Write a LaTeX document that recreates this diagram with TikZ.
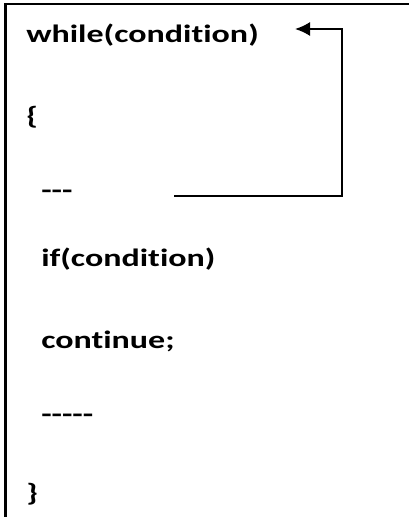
\documentclass[tikz,border=0pt]{standalone}
\usepackage{fontspec}
\newfontfamily\codefont{Carlito}[Ligatures=NoCommon]
\usetikzlibrary{arrows.meta,positioning}
\tikzset{
    codeline/.style = {anchor=base west, inner sep=0pt, xscale=1.36, transform shape,
                       font=\codefont\bfseries\fontsize{25}{29}\selectfont},
    loopline/.style = {line width=1.8pt}
}

\begin{document}
\begin{tikzpicture}[x=1pt, y=-1pt]
    \useasboundingbox (0,0) rectangle (409,517);
    \draw[line width=2.6pt] (5.5,517) -- (5.5,4) -- (409,4);

    \node[codeline] (while) at (26,42) {while(condition)};
    \node[codeline] (open) at (26,124) {\{};
    \node[codeline] (dash3) at (41,198) {---};
    \node[codeline] (if) at (41,266) {if(condition)};
    \node[codeline] (cont) at (41,348) {continue;};
    \node[codeline] (dash5) at (41,422) {-----};
    \node[codeline] (close) at (26,501) {\}};

    \coordinate (loopstart) at (174,196);
    \coordinate (looptop) at (342,29);
    \coordinate (loopend) at (295,29);
    \draw[loopline, -{Latex[length=15pt, width=14pt]}] (loopstart) -| (looptop) -- (loopend);
\end{tikzpicture}
\end{document}
